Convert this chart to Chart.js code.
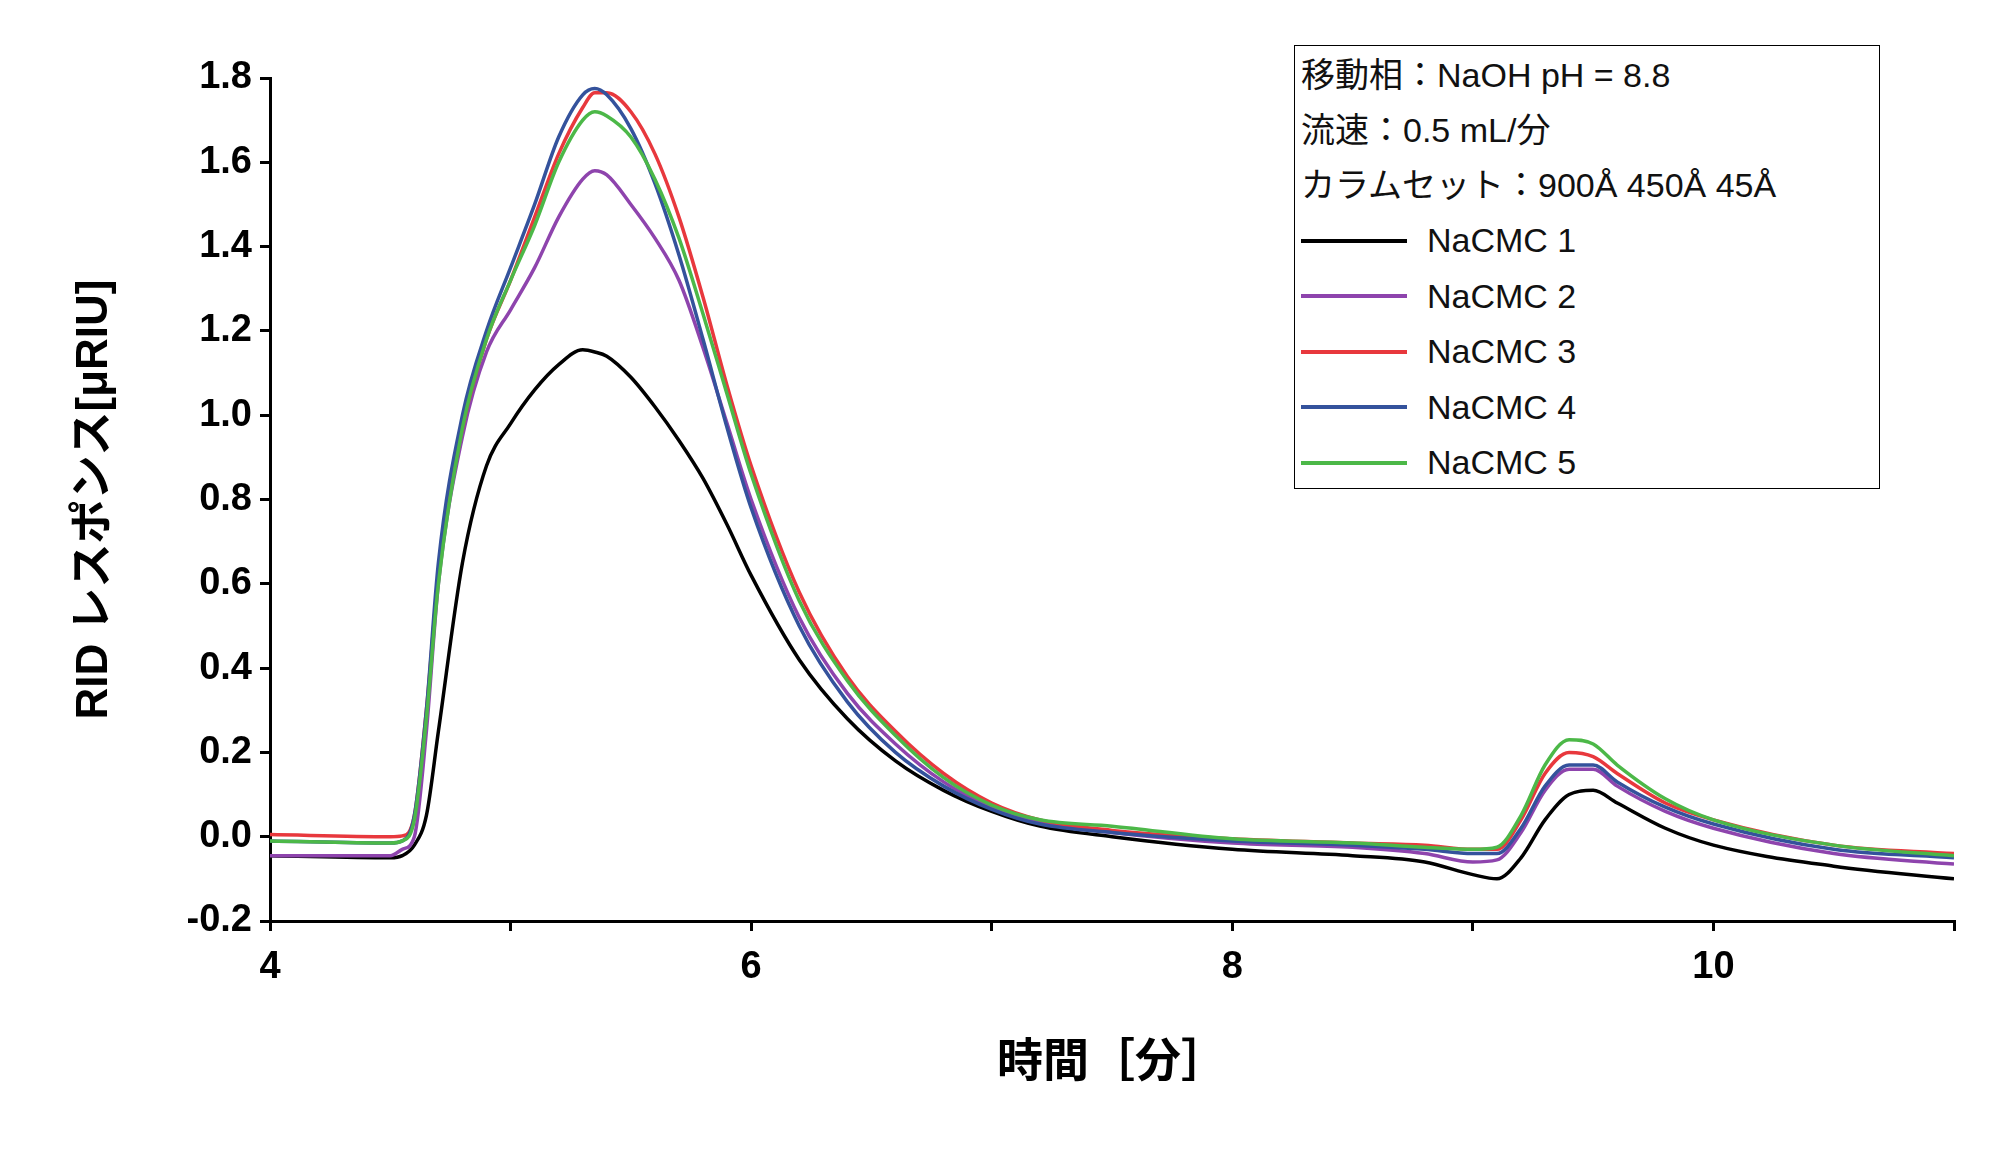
<!DOCTYPE html>
<html><head><meta charset="utf-8">
<script src="https://cdn.jsdelivr.net/npm/chart.js@4/dist/chart.umd.min.js"></script>
<style>
html,body{margin:0;padding:0;background:#fff;}
#wrap{position:relative;width:2000px;height:1151px;}
#legend{position:absolute;left:1294px;top:45px;width:586px;height:444px;border:1.5px solid #000;background:#fff;
 font-family:Arial,"Liberation Sans","Noto Sans CJK JP",sans-serif;font-size:34px;color:#111;box-sizing:border-box;padding:2px 6px;}
#legend .t{height:55px;line-height:55px;}
#legend .r{height:55.5px;line-height:55.5px;display:flex;align-items:center;}
#legend .sw{width:106px;height:4px;margin-right:20px;}
</style></head>
<body><div id="wrap"><canvas id="c" width="2000" height="1151"></canvas>
<div id="legend"></div></div>
<script>
// 時間 [分]
const times = [4.0,4.5,4.55,4.6,4.65,4.7,4.8,4.9,5.0,5.1,5.2,5.3,5.35,5.4,5.5,5.6,5.7,5.8,5.9,6.0,6.2,6.4,6.6,6.8,7.0,7.2,7.5,8.0,8.5,8.8,9.0,9.1,9.2,9.3,9.4,9.5,9.6,9.8,10.0,10.5,11.0];
const nacmc1 = [-0.045,-0.05,-0.045,-0.02,0.05,0.25,0.65,0.88,0.98,1.06,1.12,1.155,1.15,1.14,1.09,1.02,0.94,0.85,0.74,0.62,0.42,0.28,0.18,0.11,0.06,0.025,0.0,-0.03,-0.045,-0.06,-0.09,-0.1,-0.05,0.04,0.1,0.11,0.08,0.02,-0.02,-0.07,-0.1];
const nacmc2 = [-0.045,-0.045,-0.03,0.0,0.25,0.6,0.95,1.15,1.25,1.35,1.47,1.56,1.58,1.57,1.5,1.42,1.32,1.16,0.98,0.8,0.52,0.34,0.22,0.13,0.07,0.035,0.01,-0.015,-0.025,-0.04,-0.06,-0.055,0.01,0.11,0.16,0.16,0.12,0.06,0.02,-0.04,-0.065];
const nacmc3 = [0.005,0.0,0.002,0.05,0.3,0.62,0.97,1.18,1.32,1.47,1.62,1.73,1.765,1.765,1.72,1.62,1.47,1.28,1.07,0.88,0.58,0.38,0.25,0.15,0.08,0.04,0.015,-0.005,-0.015,-0.02,-0.03,-0.03,0.04,0.15,0.2,0.19,0.15,0.08,0.04,-0.02,-0.04];
const nacmc4 = [-0.01,-0.015,-0.01,0.05,0.3,0.65,1.0,1.2,1.35,1.5,1.66,1.76,1.775,1.76,1.68,1.55,1.38,1.18,0.97,0.78,0.5,0.32,0.2,0.12,0.065,0.03,0.01,-0.01,-0.02,-0.03,-0.04,-0.04,0.02,0.12,0.17,0.17,0.13,0.07,0.03,-0.03,-0.05];
const nacmc5 = [-0.01,-0.015,-0.01,0.04,0.28,0.6,0.97,1.18,1.32,1.45,1.6,1.7,1.72,1.71,1.66,1.56,1.42,1.24,1.05,0.86,0.56,0.37,0.24,0.14,0.075,0.04,0.025,-0.005,-0.015,-0.025,-0.03,-0.025,0.05,0.17,0.23,0.22,0.17,0.09,0.04,-0.02,-0.045];
const seriesNames = ['NaCMC 1','NaCMC 2','NaCMC 3','NaCMC 4','NaCMC 5'];
const seriesColors = ['#000000','#8e44ad','#e8383d','#34529c','#4cb848'];
const infoLines = ['移動相：NaOH pH = 8.8','流速：0.5 mL/分','カラムセット：900Å 450Å 45Å'];

const all = [nacmc1,nacmc2,nacmc3,nacmc4,nacmc5];
// 凡例 (HTML)
const lg = document.getElementById('legend');
infoLines.forEach(t => { const d=document.createElement('div'); d.className='t'; d.textContent=t; lg.appendChild(d); });
seriesNames.forEach((n,i) => {
  const d=document.createElement('div'); d.className='r';
  d.innerHTML='<span class="sw" style="background:'+seriesColors[i]+'"></span><span>'+n+'</span>';
  lg.appendChild(d);
});

const font = 'Arial, "Liberation Sans", "Noto Sans CJK JP", sans-serif';
new Chart(document.getElementById('c'), {
  type: 'line',
  data: {
    datasets: all.map((vals,i) => ({
      label: seriesNames[i],
      data: times.map((t,k) => ({x:t, y:vals[k]})),
      borderColor: seriesColors[i],
      borderWidth: 3.5,
      pointRadius: 0,
      cubicInterpolationMode: 'monotone',
    })).reverse()
  },
  options: {
    responsive: false, animation: false,
    layout: { padding: { top: 78, right: 46, left: 0, bottom: 0 } },
    plugins: { legend: { display: false }, tooltip: { enabled: false } },
    scales: {
      x: {
        type: 'linear', min: 4, max: 11,
        border: { color: '#000', width: 3 },
        grid: { drawOnChartArea: false, drawTicks: true, tickLength: 10, color: '#000', lineWidth: 3 },
        ticks: { stepSize: 1, color: '#000', font: { family: font, size: 38, weight: 'bold' }, padding: 14,
          callback: v => (v % 2 === 0 ? v : '') },
        title: { display: true, text: '時間［分］', color: '#000', font: { family: font, size: 46, weight: 'bold' }, padding: { top: 30, bottom: 60 } },
        afterFit: s => { s.height = 230; }
      },
      y: {
        min: -0.2, max: 1.8,
        border: { color: '#000', width: 3 },
        grid: { drawOnChartArea: false, drawTicks: true, tickLength: 10, color: '#000', lineWidth: 3 },
        ticks: { stepSize: 0.2, color: '#000', font: { family: font, size: 38, weight: 'bold' }, padding: 8,
          callback: v => v.toFixed(1) },
        title: { display: true, text: 'RID レスポンス[μRIU]', color: '#000', font: { family: font, size: 44, weight: 'bold' }, padding: { top: 68, bottom: 10 } },
        afterFit: s => { s.width = 270; }
      }
    }
  }
});
</script></body></html>
